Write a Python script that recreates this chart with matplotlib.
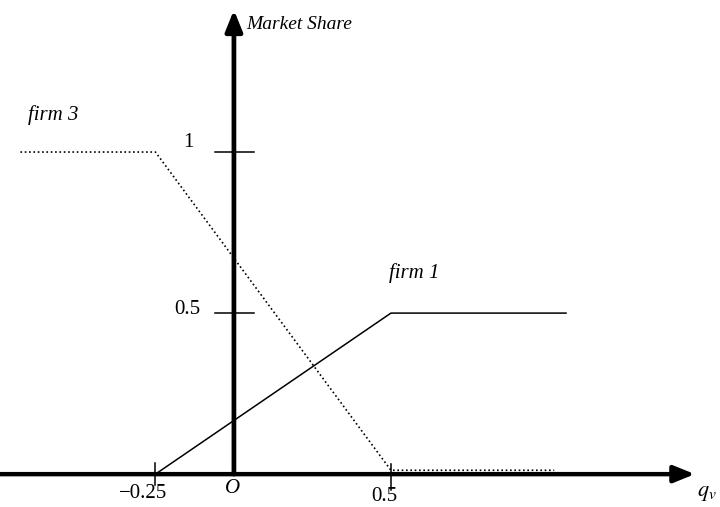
import matplotlib.pyplot as plt

plt.rcParams["font.family"] = ["Liberation Serif", "DejaVu Serif"]

# firm 1: solid piecewise line
firm1_x = [-0.25, 0.5, 1.06]
firm1_y = [0.0, 0.5, 0.5]

# firm 3: dotted piecewise line (flat part sits just above the axis)
firm3_x = [-0.68, -0.25, 0.5, 1.02]
firm3_y = [1.0, 1.0, 0.012, 0.012]

xticks = [-0.25, 0.5]
xtick_labels = ["\u22120.25", "0.5"]
yticks = [0.5, 1.0]
ytick_labels = ["0.5", "1"]

fig = plt.figure(figsize=(7.2, 5.07), dpi=100)
ax = fig.add_axes([0, 0, 1, 1])
ax.set_xlim(-0.745, 1.548)
ax.set_ylim(-0.102, 1.472)
ax.axis("off")

# axes with arrows
head = "-|>,head_length=0.42,head_width=0.17"
ax.annotate("", xy=(1.468, 0), xytext=(-0.745, 0),
            arrowprops=dict(arrowstyle=head, lw=3.2, color="black",
                            mutation_scale=30, shrinkA=0, shrinkB=0))
ax.annotate("", xy=(0, 1.441), xytext=(0, 0),
            arrowprops=dict(arrowstyle=head, lw=3.4, color="black",
                            mutation_scale=30, shrinkA=0, shrinkB=0))

ax.plot(firm1_x, firm1_y, color="black", lw=1.1, solid_capstyle="butt")
ax.plot(firm3_x, firm3_y, color="black", lw=1.2, linestyle=(0, (1, 1.6)),
        zorder=5)

# tick marks
for t in yticks:
    ax.plot([-0.06, 0.065], [t, t], color="black", lw=1.1)
ax.plot([xticks[0], xticks[0]], [-0.035, 0.035], color="black", lw=1.1)
ax.plot([xticks[1], xticks[1]], [-0.05, 0.03], color="black", lw=1.1)

fs = 15
ax.text(-0.145, 1.0, ytick_labels[1], ha="center", va="bottom", fontsize=fs)
ax.text(-0.15, 0.51, ytick_labels[0], ha="center", va="center", fontsize=fs)
ax.text(-0.29, -0.03, xtick_labels[0], ha="center", va="top", fontsize=fs)
ax.text(0.48, -0.04, xtick_labels[1], ha="center", va="top", fontsize=fs)
ax.text(-0.005, -0.015, "O", ha="center", va="top", fontsize=fs, style="italic")
ax.text(1.505, -0.03, "$q_v$", ha="center", va="top", fontsize=16,
        math_fontfamily="stix")

ax.text(0.04, 1.395, "Market Share", ha="left", va="center", fontsize=14,
        style="italic")
ax.text(-0.655, 1.115, "firm 3", ha="left", va="center", fontsize=15, style="italic")
ax.text(0.495, 0.625, "firm 1", ha="left", va="center", fontsize=15, style="italic")

fig.savefig("out.png", dpi=100)
